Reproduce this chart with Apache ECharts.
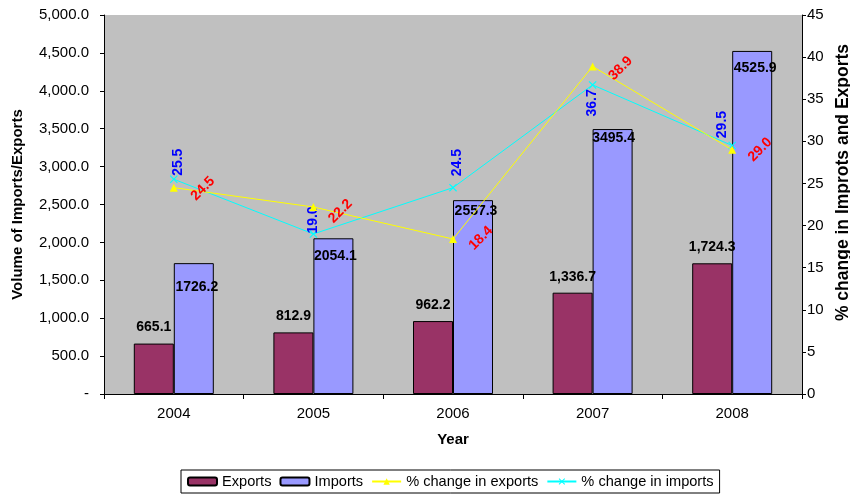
<!DOCTYPE html>
<html>
<head>
<meta charset="utf-8">
<script src="https://cdn.jsdelivr.net/npm/echarts@6/dist/echarts.min.js"></script>
<style>html,body{margin:0;padding:0;background:#fff;}#c{width:850px;height:495px;}</style>
</head>
<body>
<div id="c"></div>
<script>
const years = ['2004', '2005', '2006', '2007', '2008'];
const exportsVol = [665.1, 812.9, 962.2, 1336.7, 1724.3];
const importsVol = [1726.2, 2054.1, 2557.3, 3495.4, 4525.9];
const exportsPct = [24.5, 22.2, 18.4, 38.9, 29.0];
const importsPct = [25.5, 19.0, 24.5, 36.7, 29.5];

// label placement tweaks (relative to each mark)
const importsLabelShift = [[3, 12], [2, 6], [3, -1], [1, -3], [3, 5]];
const exportsPctLabelShift = [[29, 1], [27, 4], [28, -1], [28, 2], [28, 0]];
const importsPctLabelShift = [[4, -17], [0, -14], [4, -25], [0, 18], [-10, -21]];

const FONT = "'Liberation Sans', Arial, sans-serif";
const SYM = 8;
const xSymbol = 'path://M0,1L1,0L5,4L9,0L10,1L6,5L10,9L9,10L5,6L1,10L0,9L4,5Z';

function fmtComma(v) {
  return v.toLocaleString('en-US', {minimumFractionDigits: 1, maximumFractionDigits: 1});
}

const chart = echarts.init(document.getElementById('c'), null, {renderer: 'canvas'});
chart.setOption({
  animation: false,
  backgroundColor: '#ffffff',
  textStyle: {fontFamily: FONT, color: '#000'},
  grid: {
    left: 104, right: 48, top: 15, bottom: 101,
    outerBoundsMode: 'none',
    containLabel: false,
    show: true, backgroundColor: '#C0C0C0', borderColor: '#C0C0C0', borderWidth: 0
  },
  legend: {
    left: 181, top: 470,
    padding: [4, 6],
    itemGap: 8,
    itemWidth: 29,
    itemHeight: 8,
    borderColor: '#000', borderWidth: 1,
    textStyle: {fontFamily: FONT, fontSize: 14.6, color: '#000'},
    data: ['Exports', 'Imports', '% change in exports', '% change in imports']
  },
  xAxis: {
    type: 'category',
    data: years,
    name: 'Year',
    nameLocation: 'middle',
    nameGap: 46,
    nameTextStyle: {fontFamily: FONT, fontSize: 15, fontWeight: 'bold', color: '#000', verticalAlign: 'middle'},
    axisLine: {lineStyle: {color: '#000', width: 1}},
    axisTick: {show: true, alignWithLabel: false, length: 5, lineStyle: {color: '#000'}},
    axisLabel: {fontFamily: FONT, fontSize: 15, color: '#000', margin: 12},
    splitLine: {show: false}
  },
  yAxis: [
    {
      type: 'value',
      min: 0, max: 5000, interval: 500,
      name: 'Volume of Imports/Exports',
      nameLocation: 'middle',
      nameRotate: 90,
      nameGap: 86,
      nameTextStyle: {fontFamily: FONT, fontSize: 15, fontWeight: 'bold', color: '#000', verticalAlign: 'middle'},
      axisLine: {show: true, lineStyle: {color: '#000', width: 1}},
      axisTick: {show: true, length: 4, lineStyle: {color: '#000'}},
      axisLabel: {
        fontFamily: FONT, fontSize: 15, color: '#000', margin: 15,
        formatter: v => v === 0 ? '-' : fmtComma(v)
      },
      splitLine: {show: false}
    },
    {
      type: 'value',
      position: 'right',
      min: 0, max: 45, interval: 5,
      name: '% change in Improts and Exports',
      nameLocation: 'middle',
      nameRotate: 90,
      nameGap: 40,
      nameTextStyle: {
        fontFamily: FONT, fontSize: 17.5, fontWeight: 'bold', color: '#000',
        verticalAlign: 'middle', align: 'center', padding: [0, 0, 0, 44]
      },
      axisLine: {show: true, lineStyle: {color: '#000', width: 1}},
      axisTick: {show: true, length: 4, lineStyle: {color: '#000'}},
      axisLabel: {fontFamily: FONT, fontSize: 15, color: '#000', margin: 5},
      splitLine: {show: false}
    }
  ],
  series: [
    {
      name: 'Exports',
      type: 'bar',
      yAxisIndex: 0,
      barWidth: 40,
      barGap: '0%',
      legendIcon: 'rect',
      itemStyle: {color: '#993366', borderColor: '#000', borderWidth: 1},
      label: {
        show: true, position: 'top', distance: 9,
        fontFamily: FONT, fontSize: 14, fontWeight: 'bold', color: '#000',
        formatter: p => fmtComma(p.value)
      },
      data: exportsVol
    },
    {
      name: 'Imports',
      type: 'bar',
      yAxisIndex: 0,
      barWidth: 40,
      barGap: '0%',
      legendIcon: 'rect',
      itemStyle: {color: '#9999FF', borderColor: '#000', borderWidth: 1},
      label: {
        show: true, position: 'insideTop', distance: 5,
        fontFamily: FONT, fontSize: 14, fontWeight: 'bold', color: '#000',
        formatter: p => p.value.toFixed(1)
      },
      data: importsVol.map((v, i) => ({value: v, label: {offset: importsLabelShift[i]}}))
    },
    {
      name: '% change in exports',
      type: 'line',
      yAxisIndex: 1,
      symbol: 'triangle',
      symbolSize: SYM,
      lineStyle: {color: '#FFFF00', width: 1},
      itemStyle: {color: '#FFFF00'},
      label: {
        show: true, rotate: 45, align: 'center', verticalAlign: 'middle',
        fontFamily: FONT, fontSize: 14, fontWeight: 'bold', color: '#FF0000',
        formatter: p => p.value.toFixed(1)
      },
      data: exportsPct.map((v, i) => ({
        value: v,
        label: {position: [exportsPctLabelShift[i][0] + SYM / 2, exportsPctLabelShift[i][1] + SYM / 2]}
      })),
      z: 5
    },
    {
      name: '% change in imports',
      type: 'line',
      yAxisIndex: 1,
      symbol: xSymbol,
      symbolSize: SYM,
      lineStyle: {color: '#00FFFF', width: 1},
      itemStyle: {color: '#00FFFF'},
      label: {
        show: true, rotate: 90, align: 'center', verticalAlign: 'middle',
        fontFamily: FONT, fontSize: 14, fontWeight: 'bold', color: '#0000FF',
        formatter: p => p.value.toFixed(1)
      },
      data: importsPct.map((v, i) => ({
        value: v,
        label: {position: [importsPctLabelShift[i][0] + SYM / 2, importsPctLabelShift[i][1] + SYM / 2]}
      })),
      z: 4
    }
  ]
});
</script>
</body>
</html>
